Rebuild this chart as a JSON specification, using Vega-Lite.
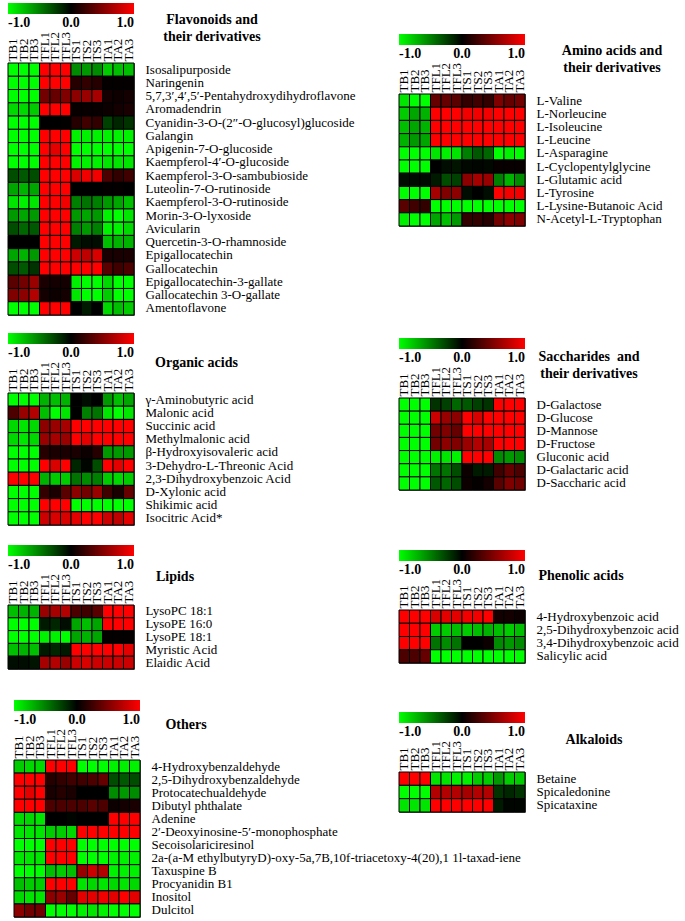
{
"$schema": "https://vega.github.io/schema/vega-lite/v6.json",
"padding": {"left": 6, "top": 1, "right": 0, "bottom": 0},
"background": "white",
"datasets": {
"flav": [
{"c":"Isosalipurposide","s":"TB1","v":-1},{"c":"Isosalipurposide","s":"TB2","v":-1},{"c":"Isosalipurposide","s":"TB3","v":-1},{"c":"Isosalipurposide","s":"TFL1","v":1},{"c":"Isosalipurposide","s":"TFL2","v":1},{"c":"Isosalipurposide","s":"TFL3","v":1},{"c":"Isosalipurposide","s":"TS1","v":-0.55},{"c":"Isosalipurposide","s":"TS2","v":-0.6},{"c":"Isosalipurposide","s":"TS3","v":-0.55},{"c":"Isosalipurposide","s":"TA1","v":-0.8},{"c":"Isosalipurposide","s":"TA2","v":-0.75},{"c":"Isosalipurposide","s":"TA3","v":-0.75},
{"c":"Naringenin","s":"TB1","v":-1},{"c":"Naringenin","s":"TB2","v":-1},{"c":"Naringenin","s":"TB3","v":-1},{"c":"Naringenin","s":"TFL1","v":1},{"c":"Naringenin","s":"TFL2","v":1},{"c":"Naringenin","s":"TFL3","v":1},{"c":"Naringenin","s":"TS1","v":0.15},{"c":"Naringenin","s":"TS2","v":0.2},{"c":"Naringenin","s":"TS3","v":0.15},{"c":"Naringenin","s":"TA1","v":0.02},{"c":"Naringenin","s":"TA2","v":0.02},{"c":"Naringenin","s":"TA3","v":0.02},
{"c":"5,7,3′,4′,5′-Pentahydroxydihydroflavone","s":"TB1","v":-1},{"c":"5,7,3′,4′,5′-Pentahydroxydihydroflavone","s":"TB2","v":-1},{"c":"5,7,3′,4′,5′-Pentahydroxydihydroflavone","s":"TB3","v":-1},{"c":"5,7,3′,4′,5′-Pentahydroxydihydroflavone","s":"TFL1","v":0.45},{"c":"5,7,3′,4′,5′-Pentahydroxydihydroflavone","s":"TFL2","v":0.4},{"c":"5,7,3′,4′,5′-Pentahydroxydihydroflavone","s":"TFL3","v":0.5},{"c":"5,7,3′,4′,5′-Pentahydroxydihydroflavone","s":"TS1","v":0.55},{"c":"5,7,3′,4′,5′-Pentahydroxydihydroflavone","s":"TS2","v":0.6},{"c":"5,7,3′,4′,5′-Pentahydroxydihydroflavone","s":"TS3","v":0.65},{"c":"5,7,3′,4′,5′-Pentahydroxydihydroflavone","s":"TA1","v":0.08},{"c":"5,7,3′,4′,5′-Pentahydroxydihydroflavone","s":"TA2","v":0.06},{"c":"5,7,3′,4′,5′-Pentahydroxydihydroflavone","s":"TA3","v":0.08},
{"c":"Aromadendrin","s":"TB1","v":-0.85},{"c":"Aromadendrin","s":"TB2","v":-0.85},{"c":"Aromadendrin","s":"TB3","v":-0.8},{"c":"Aromadendrin","s":"TFL1","v":1},{"c":"Aromadendrin","s":"TFL2","v":1},{"c":"Aromadendrin","s":"TFL3","v":1},{"c":"Aromadendrin","s":"TS1","v":0.03},{"c":"Aromadendrin","s":"TS2","v":0.03},{"c":"Aromadendrin","s":"TS3","v":0.03},{"c":"Aromadendrin","s":"TA1","v":0.05},{"c":"Aromadendrin","s":"TA2","v":0.08},{"c":"Aromadendrin","s":"TA3","v":0.1},
{"c":"Cyanidin-3-O-(2″-O-glucosyl)glucoside","s":"TB1","v":-1},{"c":"Cyanidin-3-O-(2″-O-glucosyl)glucoside","s":"TB2","v":-1},{"c":"Cyanidin-3-O-(2″-O-glucosyl)glucoside","s":"TB3","v":-1},{"c":"Cyanidin-3-O-(2″-O-glucosyl)glucoside","s":"TFL1","v":0},{"c":"Cyanidin-3-O-(2″-O-glucosyl)glucoside","s":"TFL2","v":0},{"c":"Cyanidin-3-O-(2″-O-glucosyl)glucoside","s":"TFL3","v":0.01},{"c":"Cyanidin-3-O-(2″-O-glucosyl)glucoside","s":"TS1","v":0.15},{"c":"Cyanidin-3-O-(2″-O-glucosyl)glucoside","s":"TS2","v":0.25},{"c":"Cyanidin-3-O-(2″-O-glucosyl)glucoside","s":"TS3","v":0.2},{"c":"Cyanidin-3-O-(2″-O-glucosyl)glucoside","s":"TA1","v":-0.25},{"c":"Cyanidin-3-O-(2″-O-glucosyl)glucoside","s":"TA2","v":-0.15},{"c":"Cyanidin-3-O-(2″-O-glucosyl)glucoside","s":"TA3","v":-0.2},
{"c":"Galangin","s":"TB1","v":-1},{"c":"Galangin","s":"TB2","v":-1},{"c":"Galangin","s":"TB3","v":-1},{"c":"Galangin","s":"TFL1","v":1},{"c":"Galangin","s":"TFL2","v":1},{"c":"Galangin","s":"TFL3","v":1},{"c":"Galangin","s":"TS1","v":-0.95},{"c":"Galangin","s":"TS2","v":-0.95},{"c":"Galangin","s":"TS3","v":-0.95},{"c":"Galangin","s":"TA1","v":-0.95},{"c":"Galangin","s":"TA2","v":-0.95},{"c":"Galangin","s":"TA3","v":-0.95},
{"c":"Apigenin-7-O-glucoside","s":"TB1","v":-1},{"c":"Apigenin-7-O-glucoside","s":"TB2","v":-1},{"c":"Apigenin-7-O-glucoside","s":"TB3","v":-1},{"c":"Apigenin-7-O-glucoside","s":"TFL1","v":1},{"c":"Apigenin-7-O-glucoside","s":"TFL2","v":0.9},{"c":"Apigenin-7-O-glucoside","s":"TFL3","v":1},{"c":"Apigenin-7-O-glucoside","s":"TS1","v":-1},{"c":"Apigenin-7-O-glucoside","s":"TS2","v":-1},{"c":"Apigenin-7-O-glucoside","s":"TS3","v":-1},{"c":"Apigenin-7-O-glucoside","s":"TA1","v":-1},{"c":"Apigenin-7-O-glucoside","s":"TA2","v":-1},{"c":"Apigenin-7-O-glucoside","s":"TA3","v":-1},
{"c":"Kaempferol-4′-O-glucoside","s":"TB1","v":-1},{"c":"Kaempferol-4′-O-glucoside","s":"TB2","v":-1},{"c":"Kaempferol-4′-O-glucoside","s":"TB3","v":-1},{"c":"Kaempferol-4′-O-glucoside","s":"TFL1","v":1},{"c":"Kaempferol-4′-O-glucoside","s":"TFL2","v":1},{"c":"Kaempferol-4′-O-glucoside","s":"TFL3","v":1},{"c":"Kaempferol-4′-O-glucoside","s":"TS1","v":-0.95},{"c":"Kaempferol-4′-O-glucoside","s":"TS2","v":-0.95},{"c":"Kaempferol-4′-O-glucoside","s":"TS3","v":-0.95},{"c":"Kaempferol-4′-O-glucoside","s":"TA1","v":-0.9},{"c":"Kaempferol-4′-O-glucoside","s":"TA2","v":-0.9},{"c":"Kaempferol-4′-O-glucoside","s":"TA3","v":-0.9},
{"c":"Kaempferol-3-O-sambubioside","s":"TB1","v":-0.3},{"c":"Kaempferol-3-O-sambubioside","s":"TB2","v":-0.35},{"c":"Kaempferol-3-O-sambubioside","s":"TB3","v":-0.3},{"c":"Kaempferol-3-O-sambubioside","s":"TFL1","v":1},{"c":"Kaempferol-3-O-sambubioside","s":"TFL2","v":1},{"c":"Kaempferol-3-O-sambubioside","s":"TFL3","v":1},{"c":"Kaempferol-3-O-sambubioside","s":"TS1","v":0.85},{"c":"Kaempferol-3-O-sambubioside","s":"TS2","v":0.95},{"c":"Kaempferol-3-O-sambubioside","s":"TS3","v":0.95},{"c":"Kaempferol-3-O-sambubioside","s":"TA1","v":0.3},{"c":"Kaempferol-3-O-sambubioside","s":"TA2","v":0.2},{"c":"Kaempferol-3-O-sambubioside","s":"TA3","v":0.25},
{"c":"Luteolin-7-O-rutinoside","s":"TB1","v":-0.65},{"c":"Luteolin-7-O-rutinoside","s":"TB2","v":-0.7},{"c":"Luteolin-7-O-rutinoside","s":"TB3","v":-0.65},{"c":"Luteolin-7-O-rutinoside","s":"TFL1","v":1},{"c":"Luteolin-7-O-rutinoside","s":"TFL2","v":1},{"c":"Luteolin-7-O-rutinoside","s":"TFL3","v":1},{"c":"Luteolin-7-O-rutinoside","s":"TS1","v":0},{"c":"Luteolin-7-O-rutinoside","s":"TS2","v":0},{"c":"Luteolin-7-O-rutinoside","s":"TS3","v":0},{"c":"Luteolin-7-O-rutinoside","s":"TA1","v":0.02},{"c":"Luteolin-7-O-rutinoside","s":"TA2","v":0.02},{"c":"Luteolin-7-O-rutinoside","s":"TA3","v":0},
{"c":"Kaempferol-3-O-rutinoside","s":"TB1","v":-0.9},{"c":"Kaempferol-3-O-rutinoside","s":"TB2","v":-0.95},{"c":"Kaempferol-3-O-rutinoside","s":"TB3","v":-0.9},{"c":"Kaempferol-3-O-rutinoside","s":"TFL1","v":1},{"c":"Kaempferol-3-O-rutinoside","s":"TFL2","v":1},{"c":"Kaempferol-3-O-rutinoside","s":"TFL3","v":0.95},{"c":"Kaempferol-3-O-rutinoside","s":"TS1","v":-0.5},{"c":"Kaempferol-3-O-rutinoside","s":"TS2","v":-0.45},{"c":"Kaempferol-3-O-rutinoside","s":"TS3","v":-0.5},{"c":"Kaempferol-3-O-rutinoside","s":"TA1","v":-0.6},{"c":"Kaempferol-3-O-rutinoside","s":"TA2","v":-0.65},{"c":"Kaempferol-3-O-rutinoside","s":"TA3","v":-0.75},
{"c":"Morin-3-O-lyxoside","s":"TB1","v":-0.6},{"c":"Morin-3-O-lyxoside","s":"TB2","v":-0.65},{"c":"Morin-3-O-lyxoside","s":"TB3","v":-0.6},{"c":"Morin-3-O-lyxoside","s":"TFL1","v":1},{"c":"Morin-3-O-lyxoside","s":"TFL2","v":1},{"c":"Morin-3-O-lyxoside","s":"TFL3","v":1},{"c":"Morin-3-O-lyxoside","s":"TS1","v":-0.6},{"c":"Morin-3-O-lyxoside","s":"TS2","v":-0.65},{"c":"Morin-3-O-lyxoside","s":"TS3","v":-0.6},{"c":"Morin-3-O-lyxoside","s":"TA1","v":-0.95},{"c":"Morin-3-O-lyxoside","s":"TA2","v":-1},{"c":"Morin-3-O-lyxoside","s":"TA3","v":-0.9},
{"c":"Avicularin","s":"TB1","v":-0.3},{"c":"Avicularin","s":"TB2","v":-0.4},{"c":"Avicularin","s":"TB3","v":-0.35},{"c":"Avicularin","s":"TFL1","v":1},{"c":"Avicularin","s":"TFL2","v":1},{"c":"Avicularin","s":"TFL3","v":1},{"c":"Avicularin","s":"TS1","v":-0.5},{"c":"Avicularin","s":"TS2","v":-0.6},{"c":"Avicularin","s":"TS3","v":-0.5},{"c":"Avicularin","s":"TA1","v":-0.95},{"c":"Avicularin","s":"TA2","v":-0.95},{"c":"Avicularin","s":"TA3","v":-0.85},
{"c":"Quercetin-3-O-rhamnoside","s":"TB1","v":0},{"c":"Quercetin-3-O-rhamnoside","s":"TB2","v":0},{"c":"Quercetin-3-O-rhamnoside","s":"TB3","v":0},{"c":"Quercetin-3-O-rhamnoside","s":"TFL1","v":1},{"c":"Quercetin-3-O-rhamnoside","s":"TFL2","v":1},{"c":"Quercetin-3-O-rhamnoside","s":"TFL3","v":1},{"c":"Quercetin-3-O-rhamnoside","s":"TS1","v":-0.1},{"c":"Quercetin-3-O-rhamnoside","s":"TS2","v":-0.05},{"c":"Quercetin-3-O-rhamnoside","s":"TS3","v":-0.05},{"c":"Quercetin-3-O-rhamnoside","s":"TA1","v":-0.75},{"c":"Quercetin-3-O-rhamnoside","s":"TA2","v":-0.7},{"c":"Quercetin-3-O-rhamnoside","s":"TA3","v":-0.7},
{"c":"Epigallocatechin","s":"TB1","v":-0.65},{"c":"Epigallocatechin","s":"TB2","v":-0.7},{"c":"Epigallocatechin","s":"TB3","v":-0.6},{"c":"Epigallocatechin","s":"TFL1","v":1},{"c":"Epigallocatechin","s":"TFL2","v":1},{"c":"Epigallocatechin","s":"TFL3","v":1},{"c":"Epigallocatechin","s":"TS1","v":0.8},{"c":"Epigallocatechin","s":"TS2","v":0.75},{"c":"Epigallocatechin","s":"TS3","v":0.85},{"c":"Epigallocatechin","s":"TA1","v":0.1},{"c":"Epigallocatechin","s":"TA2","v":0.1},{"c":"Epigallocatechin","s":"TA3","v":0.1},
{"c":"Gallocatechin","s":"TB1","v":-0.3},{"c":"Gallocatechin","s":"TB2","v":-0.35},{"c":"Gallocatechin","s":"TB3","v":-0.2},{"c":"Gallocatechin","s":"TFL1","v":1},{"c":"Gallocatechin","s":"TFL2","v":1},{"c":"Gallocatechin","s":"TFL3","v":1},{"c":"Gallocatechin","s":"TS1","v":1},{"c":"Gallocatechin","s":"TS2","v":1},{"c":"Gallocatechin","s":"TS3","v":1},{"c":"Gallocatechin","s":"TA1","v":0.35},{"c":"Gallocatechin","s":"TA2","v":0.25},{"c":"Gallocatechin","s":"TA3","v":0.3},
{"c":"Epigallocatechin-3-gallate","s":"TB1","v":0.35},{"c":"Epigallocatechin-3-gallate","s":"TB2","v":0.45},{"c":"Epigallocatechin-3-gallate","s":"TB3","v":0.6},{"c":"Epigallocatechin-3-gallate","s":"TFL1","v":0.1},{"c":"Epigallocatechin-3-gallate","s":"TFL2","v":0.08},{"c":"Epigallocatechin-3-gallate","s":"TFL3","v":0.08},{"c":"Epigallocatechin-3-gallate","s":"TS1","v":-0.95},{"c":"Epigallocatechin-3-gallate","s":"TS2","v":-1},{"c":"Epigallocatechin-3-gallate","s":"TS3","v":-1},{"c":"Epigallocatechin-3-gallate","s":"TA1","v":-0.85},{"c":"Epigallocatechin-3-gallate","s":"TA2","v":-1},{"c":"Epigallocatechin-3-gallate","s":"TA3","v":-1},
{"c":"Gallocatechin 3-O-gallate","s":"TB1","v":0.5},{"c":"Gallocatechin 3-O-gallate","s":"TB2","v":0.55},{"c":"Gallocatechin 3-O-gallate","s":"TB3","v":0.7},{"c":"Gallocatechin 3-O-gallate","s":"TFL1","v":0.08},{"c":"Gallocatechin 3-O-gallate","s":"TFL2","v":0.05},{"c":"Gallocatechin 3-O-gallate","s":"TFL3","v":0.08},{"c":"Gallocatechin 3-O-gallate","s":"TS1","v":-0.9},{"c":"Gallocatechin 3-O-gallate","s":"TS2","v":-1},{"c":"Gallocatechin 3-O-gallate","s":"TS3","v":-1},{"c":"Gallocatechin 3-O-gallate","s":"TA1","v":-0.8},{"c":"Gallocatechin 3-O-gallate","s":"TA2","v":-1},{"c":"Gallocatechin 3-O-gallate","s":"TA3","v":-1},
{"c":"Amentoflavone","s":"TB1","v":-1},{"c":"Amentoflavone","s":"TB2","v":-1},{"c":"Amentoflavone","s":"TB3","v":-1},{"c":"Amentoflavone","s":"TFL1","v":1},{"c":"Amentoflavone","s":"TFL2","v":1},{"c":"Amentoflavone","s":"TFL3","v":1},{"c":"Amentoflavone","s":"TS1","v":0},{"c":"Amentoflavone","s":"TS2","v":-0.1},{"c":"Amentoflavone","s":"TS3","v":0},{"c":"Amentoflavone","s":"TA1","v":-0.85},{"c":"Amentoflavone","s":"TA2","v":-0.75},{"c":"Amentoflavone","s":"TA3","v":-0.8}
],
"amino": [
{"c":"L-Valine","s":"TB1","v":-0.9},{"c":"L-Valine","s":"TB2","v":-1},{"c":"L-Valine","s":"TB3","v":-1},{"c":"L-Valine","s":"TFL1","v":0.4},{"c":"L-Valine","s":"TFL2","v":0.4},{"c":"L-Valine","s":"TFL3","v":0.35},{"c":"L-Valine","s":"TS1","v":0.2},{"c":"L-Valine","s":"TS2","v":0.25},{"c":"L-Valine","s":"TS3","v":0.2},{"c":"L-Valine","s":"TA1","v":0.5},{"c":"L-Valine","s":"TA2","v":0.4},{"c":"L-Valine","s":"TA3","v":0.45},
{"c":"L-Norleucine","s":"TB1","v":-0.8},{"c":"L-Norleucine","s":"TB2","v":-0.65},{"c":"L-Norleucine","s":"TB3","v":-0.7},{"c":"L-Norleucine","s":"TFL1","v":1},{"c":"L-Norleucine","s":"TFL2","v":1},{"c":"L-Norleucine","s":"TFL3","v":1},{"c":"L-Norleucine","s":"TS1","v":0.95},{"c":"L-Norleucine","s":"TS2","v":0.95},{"c":"L-Norleucine","s":"TS3","v":0.95},{"c":"L-Norleucine","s":"TA1","v":1},{"c":"L-Norleucine","s":"TA2","v":1},{"c":"L-Norleucine","s":"TA3","v":1},
{"c":"L-Isoleucine","s":"TB1","v":-0.75},{"c":"L-Isoleucine","s":"TB2","v":-0.65},{"c":"L-Isoleucine","s":"TB3","v":-0.7},{"c":"L-Isoleucine","s":"TFL1","v":1},{"c":"L-Isoleucine","s":"TFL2","v":1},{"c":"L-Isoleucine","s":"TFL3","v":1},{"c":"L-Isoleucine","s":"TS1","v":1},{"c":"L-Isoleucine","s":"TS2","v":1},{"c":"L-Isoleucine","s":"TS3","v":1},{"c":"L-Isoleucine","s":"TA1","v":1},{"c":"L-Isoleucine","s":"TA2","v":1},{"c":"L-Isoleucine","s":"TA3","v":1},
{"c":"L-Leucine","s":"TB1","v":-0.7},{"c":"L-Leucine","s":"TB2","v":-0.6},{"c":"L-Leucine","s":"TB3","v":-0.65},{"c":"L-Leucine","s":"TFL1","v":1},{"c":"L-Leucine","s":"TFL2","v":1},{"c":"L-Leucine","s":"TFL3","v":1},{"c":"L-Leucine","s":"TS1","v":1},{"c":"L-Leucine","s":"TS2","v":1},{"c":"L-Leucine","s":"TS3","v":1},{"c":"L-Leucine","s":"TA1","v":1},{"c":"L-Leucine","s":"TA2","v":1},{"c":"L-Leucine","s":"TA3","v":1},
{"c":"L-Asparagine","s":"TB1","v":-1},{"c":"L-Asparagine","s":"TB2","v":-1},{"c":"L-Asparagine","s":"TB3","v":-1},{"c":"L-Asparagine","s":"TFL1","v":-0.9},{"c":"L-Asparagine","s":"TFL2","v":-0.95},{"c":"L-Asparagine","s":"TFL3","v":-0.9},{"c":"L-Asparagine","s":"TS1","v":-0.5},{"c":"L-Asparagine","s":"TS2","v":-0.35},{"c":"L-Asparagine","s":"TS3","v":-0.4},{"c":"L-Asparagine","s":"TA1","v":-1},{"c":"L-Asparagine","s":"TA2","v":-0.95},{"c":"L-Asparagine","s":"TA3","v":-1},
{"c":"L-Cyclopentylglycine","s":"TB1","v":-1},{"c":"L-Cyclopentylglycine","s":"TB2","v":-1},{"c":"L-Cyclopentylglycine","s":"TB3","v":-1},{"c":"L-Cyclopentylglycine","s":"TFL1","v":0},{"c":"L-Cyclopentylglycine","s":"TFL2","v":-0.05},{"c":"L-Cyclopentylglycine","s":"TFL3","v":-0.08},{"c":"L-Cyclopentylglycine","s":"TS1","v":-0.03},{"c":"L-Cyclopentylglycine","s":"TS2","v":-0.02},{"c":"L-Cyclopentylglycine","s":"TS3","v":-0.03},{"c":"L-Cyclopentylglycine","s":"TA1","v":0.03},{"c":"L-Cyclopentylglycine","s":"TA2","v":0.03},{"c":"L-Cyclopentylglycine","s":"TA3","v":0.03},
{"c":"L-Glutamic acid","s":"TB1","v":-0.05},{"c":"L-Glutamic acid","s":"TB2","v":-0.04},{"c":"L-Glutamic acid","s":"TB3","v":-0.04},{"c":"L-Glutamic acid","s":"TFL1","v":-0.1},{"c":"L-Glutamic acid","s":"TFL2","v":-0.3},{"c":"L-Glutamic acid","s":"TFL3","v":-0.25},{"c":"L-Glutamic acid","s":"TS1","v":0.55},{"c":"L-Glutamic acid","s":"TS2","v":0.65},{"c":"L-Glutamic acid","s":"TS3","v":0.6},{"c":"L-Glutamic acid","s":"TA1","v":-0.5},{"c":"L-Glutamic acid","s":"TA2","v":-0.7},{"c":"L-Glutamic acid","s":"TA3","v":-0.55},
{"c":"L-Tyrosine","s":"TB1","v":-1},{"c":"L-Tyrosine","s":"TB2","v":-1},{"c":"L-Tyrosine","s":"TB3","v":-1},{"c":"L-Tyrosine","s":"TFL1","v":0.65},{"c":"L-Tyrosine","s":"TFL2","v":0.5},{"c":"L-Tyrosine","s":"TFL3","v":0.55},{"c":"L-Tyrosine","s":"TS1","v":-0.05},{"c":"L-Tyrosine","s":"TS2","v":0},{"c":"L-Tyrosine","s":"TS3","v":-0.05},{"c":"L-Tyrosine","s":"TA1","v":1},{"c":"L-Tyrosine","s":"TA2","v":0.95},{"c":"L-Tyrosine","s":"TA3","v":0.95},
{"c":"L-Lysine-Butanoic Acid","s":"TB1","v":0.35},{"c":"L-Lysine-Butanoic Acid","s":"TB2","v":0.25},{"c":"L-Lysine-Butanoic Acid","s":"TB3","v":0.2},{"c":"L-Lysine-Butanoic Acid","s":"TFL1","v":-1},{"c":"L-Lysine-Butanoic Acid","s":"TFL2","v":-1},{"c":"L-Lysine-Butanoic Acid","s":"TFL3","v":-1},{"c":"L-Lysine-Butanoic Acid","s":"TS1","v":-1},{"c":"L-Lysine-Butanoic Acid","s":"TS2","v":-1},{"c":"L-Lysine-Butanoic Acid","s":"TS3","v":-1},{"c":"L-Lysine-Butanoic Acid","s":"TA1","v":-1},{"c":"L-Lysine-Butanoic Acid","s":"TA2","v":-1},{"c":"L-Lysine-Butanoic Acid","s":"TA3","v":-1},
{"c":"N-Acetyl-L-Tryptophan","s":"TB1","v":-0.95},{"c":"N-Acetyl-L-Tryptophan","s":"TB2","v":-1},{"c":"N-Acetyl-L-Tryptophan","s":"TB3","v":-1},{"c":"N-Acetyl-L-Tryptophan","s":"TFL1","v":-0.65},{"c":"N-Acetyl-L-Tryptophan","s":"TFL2","v":-0.75},{"c":"N-Acetyl-L-Tryptophan","s":"TFL3","v":-0.6},{"c":"N-Acetyl-L-Tryptophan","s":"TS1","v":0.2},{"c":"N-Acetyl-L-Tryptophan","s":"TS2","v":0.2},{"c":"N-Acetyl-L-Tryptophan","s":"TS3","v":0.15},{"c":"N-Acetyl-L-Tryptophan","s":"TA1","v":0.45},{"c":"N-Acetyl-L-Tryptophan","s":"TA2","v":0.55},{"c":"N-Acetyl-L-Tryptophan","s":"TA3","v":0.5}
],
"organic": [
{"c":"γ-Aminobutyric acid","s":"TB1","v":-1},{"c":"γ-Aminobutyric acid","s":"TB2","v":-1},{"c":"γ-Aminobutyric acid","s":"TB3","v":-1},{"c":"γ-Aminobutyric acid","s":"TFL1","v":-0.7},{"c":"γ-Aminobutyric acid","s":"TFL2","v":-0.75},{"c":"γ-Aminobutyric acid","s":"TFL3","v":-0.7},{"c":"γ-Aminobutyric acid","s":"TS1","v":0},{"c":"γ-Aminobutyric acid","s":"TS2","v":-0.05},{"c":"γ-Aminobutyric acid","s":"TS3","v":0},{"c":"γ-Aminobutyric acid","s":"TA1","v":-0.6},{"c":"γ-Aminobutyric acid","s":"TA2","v":-0.75},{"c":"γ-Aminobutyric acid","s":"TA3","v":-0.65},
{"c":"Malonic acid","s":"TB1","v":0.3},{"c":"Malonic acid","s":"TB2","v":0.6},{"c":"Malonic acid","s":"TB3","v":0.7},{"c":"Malonic acid","s":"TFL1","v":-0.75},{"c":"Malonic acid","s":"TFL2","v":-1},{"c":"Malonic acid","s":"TFL3","v":-0.9},{"c":"Malonic acid","s":"TS1","v":0},{"c":"Malonic acid","s":"TS2","v":-0.5},{"c":"Malonic acid","s":"TS3","v":-0.45},{"c":"Malonic acid","s":"TA1","v":-0.9},{"c":"Malonic acid","s":"TA2","v":-1},{"c":"Malonic acid","s":"TA3","v":-0.9},
{"c":"Succinic acid","s":"TB1","v":-0.85},{"c":"Succinic acid","s":"TB2","v":-0.9},{"c":"Succinic acid","s":"TB3","v":-0.85},{"c":"Succinic acid","s":"TFL1","v":0.55},{"c":"Succinic acid","s":"TFL2","v":0.6},{"c":"Succinic acid","s":"TFL3","v":0.65},{"c":"Succinic acid","s":"TS1","v":1},{"c":"Succinic acid","s":"TS2","v":1},{"c":"Succinic acid","s":"TS3","v":1},{"c":"Succinic acid","s":"TA1","v":1},{"c":"Succinic acid","s":"TA2","v":1},{"c":"Succinic acid","s":"TA3","v":1},
{"c":"Methylmalonic acid","s":"TB1","v":-0.85},{"c":"Methylmalonic acid","s":"TB2","v":-0.9},{"c":"Methylmalonic acid","s":"TB3","v":-0.85},{"c":"Methylmalonic acid","s":"TFL1","v":0.6},{"c":"Methylmalonic acid","s":"TFL2","v":0.65},{"c":"Methylmalonic acid","s":"TFL3","v":0.6},{"c":"Methylmalonic acid","s":"TS1","v":1},{"c":"Methylmalonic acid","s":"TS2","v":0.9},{"c":"Methylmalonic acid","s":"TS3","v":1},{"c":"Methylmalonic acid","s":"TA1","v":1},{"c":"Methylmalonic acid","s":"TA2","v":1},{"c":"Methylmalonic acid","s":"TA3","v":1},
{"c":"β-Hydroxyisovaleric acid","s":"TB1","v":-1},{"c":"β-Hydroxyisovaleric acid","s":"TB2","v":-1},{"c":"β-Hydroxyisovaleric acid","s":"TB3","v":-1},{"c":"β-Hydroxyisovaleric acid","s":"TFL1","v":0.15},{"c":"β-Hydroxyisovaleric acid","s":"TFL2","v":0.1},{"c":"β-Hydroxyisovaleric acid","s":"TFL3","v":0.1},{"c":"β-Hydroxyisovaleric acid","s":"TS1","v":0.1},{"c":"β-Hydroxyisovaleric acid","s":"TS2","v":0.05},{"c":"β-Hydroxyisovaleric acid","s":"TS3","v":0.15},{"c":"β-Hydroxyisovaleric acid","s":"TA1","v":-0.6},{"c":"β-Hydroxyisovaleric acid","s":"TA2","v":-0.6},{"c":"β-Hydroxyisovaleric acid","s":"TA3","v":-0.6},
{"c":"3-Dehydro-L-Threonic Acid","s":"TB1","v":-1},{"c":"3-Dehydro-L-Threonic Acid","s":"TB2","v":-1},{"c":"3-Dehydro-L-Threonic Acid","s":"TB3","v":-1},{"c":"3-Dehydro-L-Threonic Acid","s":"TFL1","v":1},{"c":"3-Dehydro-L-Threonic Acid","s":"TFL2","v":0.85},{"c":"3-Dehydro-L-Threonic Acid","s":"TFL3","v":1},{"c":"3-Dehydro-L-Threonic Acid","s":"TS1","v":-0.15},{"c":"3-Dehydro-L-Threonic Acid","s":"TS2","v":-0.02},{"c":"3-Dehydro-L-Threonic Acid","s":"TS3","v":-0.3},{"c":"3-Dehydro-L-Threonic Acid","s":"TA1","v":1},{"c":"3-Dehydro-L-Threonic Acid","s":"TA2","v":0.9},{"c":"3-Dehydro-L-Threonic Acid","s":"TA3","v":1},
{"c":"2,3-Dihydroxybenzoic Acid","s":"TB1","v":1},{"c":"2,3-Dihydroxybenzoic Acid","s":"TB2","v":1},{"c":"2,3-Dihydroxybenzoic Acid","s":"TB3","v":1},{"c":"2,3-Dihydroxybenzoic Acid","s":"TFL1","v":-0.7},{"c":"2,3-Dihydroxybenzoic Acid","s":"TFL2","v":-0.8},{"c":"2,3-Dihydroxybenzoic Acid","s":"TFL3","v":-0.8},{"c":"2,3-Dihydroxybenzoic Acid","s":"TS1","v":-0.45},{"c":"2,3-Dihydroxybenzoic Acid","s":"TS2","v":-0.55},{"c":"2,3-Dihydroxybenzoic Acid","s":"TS3","v":-0.5},{"c":"2,3-Dihydroxybenzoic Acid","s":"TA1","v":-0.8},{"c":"2,3-Dihydroxybenzoic Acid","s":"TA2","v":-0.85},{"c":"2,3-Dihydroxybenzoic Acid","s":"TA3","v":-0.8},
{"c":"D-Xylonic acid","s":"TB1","v":-1},{"c":"D-Xylonic acid","s":"TB2","v":-1},{"c":"D-Xylonic acid","s":"TB3","v":-1},{"c":"D-Xylonic acid","s":"TFL1","v":0.2},{"c":"D-Xylonic acid","s":"TFL2","v":0.1},{"c":"D-Xylonic acid","s":"TFL3","v":0.35},{"c":"D-Xylonic acid","s":"TS1","v":0.55},{"c":"D-Xylonic acid","s":"TS2","v":0.45},{"c":"D-Xylonic acid","s":"TS3","v":0.6},{"c":"D-Xylonic acid","s":"TA1","v":0.25},{"c":"D-Xylonic acid","s":"TA2","v":0.1},{"c":"D-Xylonic acid","s":"TA3","v":0.4},
{"c":"Shikimic acid","s":"TB1","v":-1},{"c":"Shikimic acid","s":"TB2","v":-1},{"c":"Shikimic acid","s":"TB3","v":-1},{"c":"Shikimic acid","s":"TFL1","v":1},{"c":"Shikimic acid","s":"TFL2","v":1},{"c":"Shikimic acid","s":"TFL3","v":1},{"c":"Shikimic acid","s":"TS1","v":-1},{"c":"Shikimic acid","s":"TS2","v":-1},{"c":"Shikimic acid","s":"TS3","v":-1},{"c":"Shikimic acid","s":"TA1","v":-1},{"c":"Shikimic acid","s":"TA2","v":-1},{"c":"Shikimic acid","s":"TA3","v":-1},
{"c":"Isocitric Acid*","s":"TB1","v":-1},{"c":"Isocitric Acid*","s":"TB2","v":-1},{"c":"Isocitric Acid*","s":"TB3","v":-1},{"c":"Isocitric Acid*","s":"TFL1","v":0.8},{"c":"Isocitric Acid*","s":"TFL2","v":0.85},{"c":"Isocitric Acid*","s":"TFL3","v":0.85},{"c":"Isocitric Acid*","s":"TS1","v":0.9},{"c":"Isocitric Acid*","s":"TS2","v":1},{"c":"Isocitric Acid*","s":"TS3","v":1},{"c":"Isocitric Acid*","s":"TA1","v":0.8},{"c":"Isocitric Acid*","s":"TA2","v":0.75},{"c":"Isocitric Acid*","s":"TA3","v":0.9}
],
"sacch": [
{"c":"D-Galactose","s":"TB1","v":-1},{"c":"D-Galactose","s":"TB2","v":-1},{"c":"D-Galactose","s":"TB3","v":-1},{"c":"D-Galactose","s":"TFL1","v":-0.2},{"c":"D-Galactose","s":"TFL2","v":-0.25},{"c":"D-Galactose","s":"TFL3","v":-0.4},{"c":"D-Galactose","s":"TS1","v":-0.35},{"c":"D-Galactose","s":"TS2","v":-0.25},{"c":"D-Galactose","s":"TS3","v":-0.2},{"c":"D-Galactose","s":"TA1","v":1},{"c":"D-Galactose","s":"TA2","v":1},{"c":"D-Galactose","s":"TA3","v":1},
{"c":"D-Glucose","s":"TB1","v":-1},{"c":"D-Glucose","s":"TB2","v":-1},{"c":"D-Glucose","s":"TB3","v":-1},{"c":"D-Glucose","s":"TFL1","v":0.8},{"c":"D-Glucose","s":"TFL2","v":0.6},{"c":"D-Glucose","s":"TFL3","v":0.55},{"c":"D-Glucose","s":"TS1","v":1},{"c":"D-Glucose","s":"TS2","v":0.85},{"c":"D-Glucose","s":"TS3","v":1},{"c":"D-Glucose","s":"TA1","v":1},{"c":"D-Glucose","s":"TA2","v":1},{"c":"D-Glucose","s":"TA3","v":1},
{"c":"D-Mannose","s":"TB1","v":-1},{"c":"D-Mannose","s":"TB2","v":-1},{"c":"D-Mannose","s":"TB3","v":-1},{"c":"D-Mannose","s":"TFL1","v":0.45},{"c":"D-Mannose","s":"TFL2","v":0.5},{"c":"D-Mannose","s":"TFL3","v":0.4},{"c":"D-Mannose","s":"TS1","v":1},{"c":"D-Mannose","s":"TS2","v":1},{"c":"D-Mannose","s":"TS3","v":1},{"c":"D-Mannose","s":"TA1","v":1},{"c":"D-Mannose","s":"TA2","v":1},{"c":"D-Mannose","s":"TA3","v":1},
{"c":"D-Fructose","s":"TB1","v":-1},{"c":"D-Fructose","s":"TB2","v":-1},{"c":"D-Fructose","s":"TB3","v":-1},{"c":"D-Fructose","s":"TFL1","v":0.45},{"c":"D-Fructose","s":"TFL2","v":0.55},{"c":"D-Fructose","s":"TFL3","v":0.5},{"c":"D-Fructose","s":"TS1","v":0.6},{"c":"D-Fructose","s":"TS2","v":0.7},{"c":"D-Fructose","s":"TS3","v":0.65},{"c":"D-Fructose","s":"TA1","v":1},{"c":"D-Fructose","s":"TA2","v":1},{"c":"D-Fructose","s":"TA3","v":1},
{"c":"Gluconic acid","s":"TB1","v":-1},{"c":"Gluconic acid","s":"TB2","v":-1},{"c":"Gluconic acid","s":"TB3","v":-1},{"c":"Gluconic acid","s":"TFL1","v":-0.95},{"c":"Gluconic acid","s":"TFL2","v":-0.9},{"c":"Gluconic acid","s":"TFL3","v":-0.95},{"c":"Gluconic acid","s":"TS1","v":1},{"c":"Gluconic acid","s":"TS2","v":1},{"c":"Gluconic acid","s":"TS3","v":1},{"c":"Gluconic acid","s":"TA1","v":-0.55},{"c":"Gluconic acid","s":"TA2","v":-0.6},{"c":"Gluconic acid","s":"TA3","v":-0.55},
{"c":"D-Galactaric acid","s":"TB1","v":-1},{"c":"D-Galactaric acid","s":"TB2","v":-1},{"c":"D-Galactaric acid","s":"TB3","v":-1},{"c":"D-Galactaric acid","s":"TFL1","v":-0.45},{"c":"D-Galactaric acid","s":"TFL2","v":-0.45},{"c":"D-Galactaric acid","s":"TFL3","v":-0.3},{"c":"D-Galactaric acid","s":"TS1","v":0.05},{"c":"D-Galactaric acid","s":"TS2","v":-0.1},{"c":"D-Galactaric acid","s":"TS3","v":-0.1},{"c":"D-Galactaric acid","s":"TA1","v":0.25},{"c":"D-Galactaric acid","s":"TA2","v":0.4},{"c":"D-Galactaric acid","s":"TA3","v":0.3},
{"c":"D-Saccharic acid","s":"TB1","v":-1},{"c":"D-Saccharic acid","s":"TB2","v":-1},{"c":"D-Saccharic acid","s":"TB3","v":-1},{"c":"D-Saccharic acid","s":"TFL1","v":-0.35},{"c":"D-Saccharic acid","s":"TFL2","v":-0.4},{"c":"D-Saccharic acid","s":"TFL3","v":-0.3},{"c":"D-Saccharic acid","s":"TS1","v":0.05},{"c":"D-Saccharic acid","s":"TS2","v":0.02},{"c":"D-Saccharic acid","s":"TS3","v":0.08},{"c":"D-Saccharic acid","s":"TA1","v":0.35},{"c":"D-Saccharic acid","s":"TA2","v":0.5},{"c":"D-Saccharic acid","s":"TA3","v":0.45}
],
"lipids": [
{"c":"LysoPC 18:1","s":"TB1","v":-0.75},{"c":"LysoPC 18:1","s":"TB2","v":-0.7},{"c":"LysoPC 18:1","s":"TB3","v":-0.7},{"c":"LysoPC 18:1","s":"TFL1","v":0.6},{"c":"LysoPC 18:1","s":"TFL2","v":0.65},{"c":"LysoPC 18:1","s":"TFL3","v":0.7},{"c":"LysoPC 18:1","s":"TS1","v":0.3},{"c":"LysoPC 18:1","s":"TS2","v":0.25},{"c":"LysoPC 18:1","s":"TS3","v":0.35},{"c":"LysoPC 18:1","s":"TA1","v":1},{"c":"LysoPC 18:1","s":"TA2","v":1},{"c":"LysoPC 18:1","s":"TA3","v":1},
{"c":"LysoPE 16:0","s":"TB1","v":-1},{"c":"LysoPE 16:0","s":"TB2","v":-1},{"c":"LysoPE 16:0","s":"TB3","v":-1},{"c":"LysoPE 16:0","s":"TFL1","v":-0.1},{"c":"LysoPE 16:0","s":"TFL2","v":-0.15},{"c":"LysoPE 16:0","s":"TFL3","v":-0.05},{"c":"LysoPE 16:0","s":"TS1","v":-0.65},{"c":"LysoPE 16:0","s":"TS2","v":-0.75},{"c":"LysoPE 16:0","s":"TS3","v":-0.65},{"c":"LysoPE 16:0","s":"TA1","v":1},{"c":"LysoPE 16:0","s":"TA2","v":1},{"c":"LysoPE 16:0","s":"TA3","v":1},
{"c":"LysoPE 18:1","s":"TB1","v":-1},{"c":"LysoPE 18:1","s":"TB2","v":-1},{"c":"LysoPE 18:1","s":"TB3","v":-1},{"c":"LysoPE 18:1","s":"TFL1","v":-0.95},{"c":"LysoPE 18:1","s":"TFL2","v":-0.95},{"c":"LysoPE 18:1","s":"TFL3","v":-1},{"c":"LysoPE 18:1","s":"TS1","v":-0.65},{"c":"LysoPE 18:1","s":"TS2","v":-0.7},{"c":"LysoPE 18:1","s":"TS3","v":-0.65},{"c":"LysoPE 18:1","s":"TA1","v":0.02},{"c":"LysoPE 18:1","s":"TA2","v":0.02},{"c":"LysoPE 18:1","s":"TA3","v":0.02},
{"c":"Myristic Acid","s":"TB1","v":-0.75},{"c":"Myristic Acid","s":"TB2","v":-0.7},{"c":"Myristic Acid","s":"TB3","v":-0.75},{"c":"Myristic Acid","s":"TFL1","v":-0.1},{"c":"Myristic Acid","s":"TFL2","v":-0.15},{"c":"Myristic Acid","s":"TFL3","v":-0.1},{"c":"Myristic Acid","s":"TS1","v":1},{"c":"Myristic Acid","s":"TS2","v":1},{"c":"Myristic Acid","s":"TS3","v":1},{"c":"Myristic Acid","s":"TA1","v":1},{"c":"Myristic Acid","s":"TA2","v":1},{"c":"Myristic Acid","s":"TA3","v":0.9},
{"c":"Elaidic Acid","s":"TB1","v":-0.05},{"c":"Elaidic Acid","s":"TB2","v":-0.05},{"c":"Elaidic Acid","s":"TB3","v":-0.08},{"c":"Elaidic Acid","s":"TFL1","v":0.65},{"c":"Elaidic Acid","s":"TFL2","v":0.7},{"c":"Elaidic Acid","s":"TFL3","v":0.6},{"c":"Elaidic Acid","s":"TS1","v":0.8},{"c":"Elaidic Acid","s":"TS2","v":0.85},{"c":"Elaidic Acid","s":"TS3","v":0.8},{"c":"Elaidic Acid","s":"TA1","v":0.8},{"c":"Elaidic Acid","s":"TA2","v":0.8},{"c":"Elaidic Acid","s":"TA3","v":0.8}
],
"phenolic": [
{"c":"4-Hydroxybenzoic acid","s":"TB1","v":1},{"c":"4-Hydroxybenzoic acid","s":"TB2","v":1},{"c":"4-Hydroxybenzoic acid","s":"TB3","v":1},{"c":"4-Hydroxybenzoic acid","s":"TFL1","v":0.85},{"c":"4-Hydroxybenzoic acid","s":"TFL2","v":0.9},{"c":"4-Hydroxybenzoic acid","s":"TFL3","v":0.9},{"c":"4-Hydroxybenzoic acid","s":"TS1","v":0.95},{"c":"4-Hydroxybenzoic acid","s":"TS2","v":0.95},{"c":"4-Hydroxybenzoic acid","s":"TS3","v":1},{"c":"4-Hydroxybenzoic acid","s":"TA1","v":0.08},{"c":"4-Hydroxybenzoic acid","s":"TA2","v":0.08},{"c":"4-Hydroxybenzoic acid","s":"TA3","v":0.05},
{"c":"2,5-Dihydroxybenzoic acid","s":"TB1","v":1},{"c":"2,5-Dihydroxybenzoic acid","s":"TB2","v":1},{"c":"2,5-Dihydroxybenzoic acid","s":"TB3","v":1},{"c":"2,5-Dihydroxybenzoic acid","s":"TFL1","v":-0.8},{"c":"2,5-Dihydroxybenzoic acid","s":"TFL2","v":-0.8},{"c":"2,5-Dihydroxybenzoic acid","s":"TFL3","v":-0.75},{"c":"2,5-Dihydroxybenzoic acid","s":"TS1","v":-0.8},{"c":"2,5-Dihydroxybenzoic acid","s":"TS2","v":-0.75},{"c":"2,5-Dihydroxybenzoic acid","s":"TS3","v":-0.7},{"c":"2,5-Dihydroxybenzoic acid","s":"TA1","v":-0.75},{"c":"2,5-Dihydroxybenzoic acid","s":"TA2","v":-0.8},{"c":"2,5-Dihydroxybenzoic acid","s":"TA3","v":-0.75},
{"c":"3,4-Dihydroxybenzoic acid","s":"TB1","v":1},{"c":"3,4-Dihydroxybenzoic acid","s":"TB2","v":1},{"c":"3,4-Dihydroxybenzoic acid","s":"TB3","v":1},{"c":"3,4-Dihydroxybenzoic acid","s":"TFL1","v":-0.45},{"c":"3,4-Dihydroxybenzoic acid","s":"TFL2","v":-0.55},{"c":"3,4-Dihydroxybenzoic acid","s":"TFL3","v":-0.45},{"c":"3,4-Dihydroxybenzoic acid","s":"TS1","v":0},{"c":"3,4-Dihydroxybenzoic acid","s":"TS2","v":0},{"c":"3,4-Dihydroxybenzoic acid","s":"TS3","v":0.05},{"c":"3,4-Dihydroxybenzoic acid","s":"TA1","v":-0.55},{"c":"3,4-Dihydroxybenzoic acid","s":"TA2","v":-0.6},{"c":"3,4-Dihydroxybenzoic acid","s":"TA3","v":-0.55},
{"c":"Salicylic acid","s":"TB1","v":0.3},{"c":"Salicylic acid","s":"TB2","v":0.3},{"c":"Salicylic acid","s":"TB3","v":0.4},{"c":"Salicylic acid","s":"TFL1","v":-1},{"c":"Salicylic acid","s":"TFL2","v":-1},{"c":"Salicylic acid","s":"TFL3","v":-1},{"c":"Salicylic acid","s":"TS1","v":-1},{"c":"Salicylic acid","s":"TS2","v":-1},{"c":"Salicylic acid","s":"TS3","v":-1},{"c":"Salicylic acid","s":"TA1","v":-1},{"c":"Salicylic acid","s":"TA2","v":-1},{"c":"Salicylic acid","s":"TA3","v":-1}
],
"others": [
{"c":"4-Hydroxybenzaldehyde","s":"TB1","v":-0.8},{"c":"4-Hydroxybenzaldehyde","s":"TB2","v":-0.85},{"c":"4-Hydroxybenzaldehyde","s":"TB3","v":-0.85},{"c":"4-Hydroxybenzaldehyde","s":"TFL1","v":1},{"c":"4-Hydroxybenzaldehyde","s":"TFL2","v":1},{"c":"4-Hydroxybenzaldehyde","s":"TFL3","v":1},{"c":"4-Hydroxybenzaldehyde","s":"TS1","v":-1},{"c":"4-Hydroxybenzaldehyde","s":"TS2","v":-1},{"c":"4-Hydroxybenzaldehyde","s":"TS3","v":-1},{"c":"4-Hydroxybenzaldehyde","s":"TA1","v":-0.95},{"c":"4-Hydroxybenzaldehyde","s":"TA2","v":-0.95},{"c":"4-Hydroxybenzaldehyde","s":"TA3","v":-0.95},
{"c":"2,5-Dihydroxybenzaldehyde","s":"TB1","v":1},{"c":"2,5-Dihydroxybenzaldehyde","s":"TB2","v":1},{"c":"2,5-Dihydroxybenzaldehyde","s":"TB3","v":1},{"c":"2,5-Dihydroxybenzaldehyde","s":"TFL1","v":0.15},{"c":"2,5-Dihydroxybenzaldehyde","s":"TFL2","v":0.2},{"c":"2,5-Dihydroxybenzaldehyde","s":"TFL3","v":0.25},{"c":"2,5-Dihydroxybenzaldehyde","s":"TS1","v":0.25},{"c":"2,5-Dihydroxybenzaldehyde","s":"TS2","v":0.3},{"c":"2,5-Dihydroxybenzaldehyde","s":"TS3","v":0.4},{"c":"2,5-Dihydroxybenzaldehyde","s":"TA1","v":-0.3},{"c":"2,5-Dihydroxybenzaldehyde","s":"TA2","v":-0.35},{"c":"2,5-Dihydroxybenzaldehyde","s":"TA3","v":-0.3},
{"c":"Protocatechualdehyde","s":"TB1","v":1},{"c":"Protocatechualdehyde","s":"TB2","v":0.9},{"c":"Protocatechualdehyde","s":"TB3","v":1},{"c":"Protocatechualdehyde","s":"TFL1","v":0.1},{"c":"Protocatechualdehyde","s":"TFL2","v":0.15},{"c":"Protocatechualdehyde","s":"TFL3","v":0.1},{"c":"Protocatechualdehyde","s":"TS1","v":0},{"c":"Protocatechualdehyde","s":"TS2","v":0},{"c":"Protocatechualdehyde","s":"TS3","v":0},{"c":"Protocatechualdehyde","s":"TA1","v":-0.55},{"c":"Protocatechualdehyde","s":"TA2","v":-0.6},{"c":"Protocatechualdehyde","s":"TA3","v":-0.55},
{"c":"Dibutyl phthalate","s":"TB1","v":1},{"c":"Dibutyl phthalate","s":"TB2","v":1},{"c":"Dibutyl phthalate","s":"TB3","v":1},{"c":"Dibutyl phthalate","s":"TFL1","v":0.3},{"c":"Dibutyl phthalate","s":"TFL2","v":0.3},{"c":"Dibutyl phthalate","s":"TFL3","v":0.3},{"c":"Dibutyl phthalate","s":"TS1","v":0.3},{"c":"Dibutyl phthalate","s":"TS2","v":0.35},{"c":"Dibutyl phthalate","s":"TS3","v":0.3},{"c":"Dibutyl phthalate","s":"TA1","v":0.05},{"c":"Dibutyl phthalate","s":"TA2","v":0.08},{"c":"Dibutyl phthalate","s":"TA3","v":0.1},
{"c":"Adenine","s":"TB1","v":-0.85},{"c":"Adenine","s":"TB2","v":-0.85},{"c":"Adenine","s":"TB3","v":-0.9},{"c":"Adenine","s":"TFL1","v":0},{"c":"Adenine","s":"TFL2","v":0},{"c":"Adenine","s":"TFL3","v":-0.02},{"c":"Adenine","s":"TS1","v":0},{"c":"Adenine","s":"TS2","v":0},{"c":"Adenine","s":"TS3","v":0},{"c":"Adenine","s":"TA1","v":1},{"c":"Adenine","s":"TA2","v":1},{"c":"Adenine","s":"TA3","v":1},
{"c":"2′-Deoxyinosine-5′-monophosphate","s":"TB1","v":-0.9},{"c":"2′-Deoxyinosine-5′-monophosphate","s":"TB2","v":-0.9},{"c":"2′-Deoxyinosine-5′-monophosphate","s":"TB3","v":-0.9},{"c":"2′-Deoxyinosine-5′-monophosphate","s":"TFL1","v":-0.8},{"c":"2′-Deoxyinosine-5′-monophosphate","s":"TFL2","v":-0.8},{"c":"2′-Deoxyinosine-5′-monophosphate","s":"TFL3","v":-0.85},{"c":"2′-Deoxyinosine-5′-monophosphate","s":"TS1","v":1},{"c":"2′-Deoxyinosine-5′-monophosphate","s":"TS2","v":1},{"c":"2′-Deoxyinosine-5′-monophosphate","s":"TS3","v":1},{"c":"2′-Deoxyinosine-5′-monophosphate","s":"TA1","v":1},{"c":"2′-Deoxyinosine-5′-monophosphate","s":"TA2","v":1},{"c":"2′-Deoxyinosine-5′-monophosphate","s":"TA3","v":1},
{"c":"Secoisolariciresinol","s":"TB1","v":-1},{"c":"Secoisolariciresinol","s":"TB2","v":-1},{"c":"Secoisolariciresinol","s":"TB3","v":-1},{"c":"Secoisolariciresinol","s":"TFL1","v":1},{"c":"Secoisolariciresinol","s":"TFL2","v":1},{"c":"Secoisolariciresinol","s":"TFL3","v":1},{"c":"Secoisolariciresinol","s":"TS1","v":-1},{"c":"Secoisolariciresinol","s":"TS2","v":-1},{"c":"Secoisolariciresinol","s":"TS3","v":-1},{"c":"Secoisolariciresinol","s":"TA1","v":-1},{"c":"Secoisolariciresinol","s":"TA2","v":-1},{"c":"Secoisolariciresinol","s":"TA3","v":-1},
{"c":"2a-(a-M ethylbutyryD)-oxy-5a,7B,10f-triacetoxy-4(20),1 1l-taxad-iene","s":"TB1","v":-0.9},{"c":"2a-(a-M ethylbutyryD)-oxy-5a,7B,10f-triacetoxy-4(20),1 1l-taxad-iene","s":"TB2","v":-0.9},{"c":"2a-(a-M ethylbutyryD)-oxy-5a,7B,10f-triacetoxy-4(20),1 1l-taxad-iene","s":"TB3","v":-0.9},{"c":"2a-(a-M ethylbutyryD)-oxy-5a,7B,10f-triacetoxy-4(20),1 1l-taxad-iene","s":"TFL1","v":1},{"c":"2a-(a-M ethylbutyryD)-oxy-5a,7B,10f-triacetoxy-4(20),1 1l-taxad-iene","s":"TFL2","v":1},{"c":"2a-(a-M ethylbutyryD)-oxy-5a,7B,10f-triacetoxy-4(20),1 1l-taxad-iene","s":"TFL3","v":1},{"c":"2a-(a-M ethylbutyryD)-oxy-5a,7B,10f-triacetoxy-4(20),1 1l-taxad-iene","s":"TS1","v":-1},{"c":"2a-(a-M ethylbutyryD)-oxy-5a,7B,10f-triacetoxy-4(20),1 1l-taxad-iene","s":"TS2","v":-1},{"c":"2a-(a-M ethylbutyryD)-oxy-5a,7B,10f-triacetoxy-4(20),1 1l-taxad-iene","s":"TS3","v":-1},{"c":"2a-(a-M ethylbutyryD)-oxy-5a,7B,10f-triacetoxy-4(20),1 1l-taxad-iene","s":"TA1","v":-0.95},{"c":"2a-(a-M ethylbutyryD)-oxy-5a,7B,10f-triacetoxy-4(20),1 1l-taxad-iene","s":"TA2","v":-0.95},{"c":"2a-(a-M ethylbutyryD)-oxy-5a,7B,10f-triacetoxy-4(20),1 1l-taxad-iene","s":"TA3","v":-0.95},
{"c":"Taxuspine B","s":"TB1","v":-1},{"c":"Taxuspine B","s":"TB2","v":-1},{"c":"Taxuspine B","s":"TB3","v":-1},{"c":"Taxuspine B","s":"TFL1","v":-0.75},{"c":"Taxuspine B","s":"TFL2","v":-0.8},{"c":"Taxuspine B","s":"TFL3","v":-0.75},{"c":"Taxuspine B","s":"TS1","v":0.6},{"c":"Taxuspine B","s":"TS2","v":0.8},{"c":"Taxuspine B","s":"TS3","v":0.7},{"c":"Taxuspine B","s":"TA1","v":-0.95},{"c":"Taxuspine B","s":"TA2","v":-0.95},{"c":"Taxuspine B","s":"TA3","v":-0.95},
{"c":"Procyanidin B1","s":"TB1","v":-0.75},{"c":"Procyanidin B1","s":"TB2","v":-0.8},{"c":"Procyanidin B1","s":"TB3","v":-0.8},{"c":"Procyanidin B1","s":"TFL1","v":1},{"c":"Procyanidin B1","s":"TFL2","v":1},{"c":"Procyanidin B1","s":"TFL3","v":1},{"c":"Procyanidin B1","s":"TS1","v":-0.9},{"c":"Procyanidin B1","s":"TS2","v":-0.85},{"c":"Procyanidin B1","s":"TS3","v":-0.9},{"c":"Procyanidin B1","s":"TA1","v":-0.85},{"c":"Procyanidin B1","s":"TA2","v":-0.9},{"c":"Procyanidin B1","s":"TA3","v":-0.85},
{"c":"Inositol","s":"TB1","v":-0.85},{"c":"Inositol","s":"TB2","v":-0.9},{"c":"Inositol","s":"TB3","v":-0.9},{"c":"Inositol","s":"TFL1","v":0.55},{"c":"Inositol","s":"TFL2","v":0.6},{"c":"Inositol","s":"TFL3","v":0.4},{"c":"Inositol","s":"TS1","v":0.9},{"c":"Inositol","s":"TS2","v":0.9},{"c":"Inositol","s":"TS3","v":0.95},{"c":"Inositol","s":"TA1","v":0.9},{"c":"Inositol","s":"TA2","v":1},{"c":"Inositol","s":"TA3","v":0.9},
{"c":"Dulcitol","s":"TB1","v":0.55},{"c":"Dulcitol","s":"TB2","v":0.45},{"c":"Dulcitol","s":"TB3","v":0.45},{"c":"Dulcitol","s":"TFL1","v":-1},{"c":"Dulcitol","s":"TFL2","v":-1},{"c":"Dulcitol","s":"TFL3","v":-1},{"c":"Dulcitol","s":"TS1","v":-0.95},{"c":"Dulcitol","s":"TS2","v":-0.9},{"c":"Dulcitol","s":"TS3","v":-0.95},{"c":"Dulcitol","s":"TA1","v":-1},{"c":"Dulcitol","s":"TA2","v":-1},{"c":"Dulcitol","s":"TA3","v":-1}
],
"alkaloids": [
{"c":"Betaine","s":"TB1","v":1},{"c":"Betaine","s":"TB2","v":1},{"c":"Betaine","s":"TB3","v":1},{"c":"Betaine","s":"TFL1","v":-0.9},{"c":"Betaine","s":"TFL2","v":-0.9},{"c":"Betaine","s":"TFL3","v":-0.95},{"c":"Betaine","s":"TS1","v":-0.95},{"c":"Betaine","s":"TS2","v":-0.8},{"c":"Betaine","s":"TS3","v":-0.8},{"c":"Betaine","s":"TA1","v":-0.6},{"c":"Betaine","s":"TA2","v":-0.8},{"c":"Betaine","s":"TA3","v":-0.8},
{"c":"Spicaledonine","s":"TB1","v":-1},{"c":"Spicaledonine","s":"TB2","v":-1},{"c":"Spicaledonine","s":"TB3","v":-1},{"c":"Spicaledonine","s":"TFL1","v":0.7},{"c":"Spicaledonine","s":"TFL2","v":0.7},{"c":"Spicaledonine","s":"TFL3","v":0.7},{"c":"Spicaledonine","s":"TS1","v":0.65},{"c":"Spicaledonine","s":"TS2","v":0.7},{"c":"Spicaledonine","s":"TS3","v":0.7},{"c":"Spicaledonine","s":"TA1","v":-0.2},{"c":"Spicaledonine","s":"TA2","v":-0.15},{"c":"Spicaledonine","s":"TA3","v":-0.2},
{"c":"Spicataxine","s":"TB1","v":-0.9},{"c":"Spicataxine","s":"TB2","v":-0.9},{"c":"Spicataxine","s":"TB3","v":-0.9},{"c":"Spicataxine","s":"TFL1","v":1},{"c":"Spicataxine","s":"TFL2","v":1},{"c":"Spicataxine","s":"TFL3","v":1},{"c":"Spicataxine","s":"TS1","v":1},{"c":"Spicataxine","s":"TS2","v":1},{"c":"Spicataxine","s":"TS3","v":1},{"c":"Spicataxine","s":"TA1","v":-0.1},{"c":"Spicataxine","s":"TA2","v":-0.02},{"c":"Spicataxine","s":"TA3","v":-0.02}
],
"empty": []
},
"hconcat": [
{"vconcat": [
 {"data": {"name": "empty"}, "mark": "rect", "encoding": {}, "width": 1, "height": 1, "view": {"stroke": null}},
 {"vconcat": [
  {"vconcat": [
   {"vconcat": [
    {"data": {"name": "flav"}, "width": 126, "height": 252,
     "title": {"text": ["Flavonoids and", "their derivatives"], "dx": 141, "dy": 44.5},
     "mark": {"type": "rect", "stroke": "black", "strokeWidth": 1},
     "encoding": {
      "x": {"field": "s", "type": "nominal", "sort": null, "axis": {"orient": "top", "title": null}},
      "y": {"field": "c", "type": "nominal", "sort": null, "axis": {"orient": "right", "title": null}},
      "color": {"field": "v", "type": "quantitative", "scale": {"domain": [-1, 0, 1], "range": ["#00ff00", "#000000", "#ff0000"], "interpolate": "rgb", "clamp": true}, "legend": {"title": null, "values": [-1, 0, 1], "labelExpr": "datum.value < 0 ? '-1.0' : (datum.value > 0 ? '1.0' : '0.0')"}}
     }},
    {"data": {"name": "organic"}, "width": 126, "height": 132,
     "title": {"text": "Organic acids", "dx": 125.5, "dy": 41.3},
     "mark": {"type": "rect", "stroke": "black", "strokeWidth": 1},
     "encoding": {
      "x": {"field": "s", "type": "nominal", "sort": null, "axis": {"orient": "top", "title": null}},
      "y": {"field": "c", "type": "nominal", "sort": null, "axis": {"orient": "right", "title": null}},
      "color": {"field": "v", "type": "quantitative", "scale": {"domain": [-1, 0, 1], "range": ["#00ff00", "#000000", "#ff0000"], "interpolate": "rgb", "clamp": true}, "legend": {"title": null, "values": [-1, 0, 1], "labelExpr": "datum.value < 0 ? '-1.0' : (datum.value > 0 ? '1.0' : '0.0')"}}
     }}
   ], "spacing": 15, "resolve": {"scale": {"color": "independent"}, "legend": {"color": "independent"}}},
   {"data": {"name": "lipids"}, "width": 126, "height": 64,
    "title": {"text": "Lipids", "dx": 104, "dy": 43},
    "mark": {"type": "rect", "stroke": "black", "strokeWidth": 1},
    "encoding": {
     "x": {"field": "s", "type": "nominal", "sort": null, "axis": {"orient": "top", "title": null}},
     "y": {"field": "c", "type": "nominal", "sort": null, "axis": {"orient": "right", "title": null}},
     "color": {"field": "v", "type": "quantitative", "scale": {"domain": [-1, 0, 1], "range": ["#00ff00", "#000000", "#ff0000"], "interpolate": "rgb", "clamp": true}, "legend": {"title": null, "values": [-1, 0, 1], "labelExpr": "datum.value < 0 ? '-1.0' : (datum.value > 0 ? '1.0' : '0.0')"}}
    }}
  ], "spacing": 18, "resolve": {"scale": {"color": "independent"}, "legend": {"color": "independent"}}},
  {"hconcat": [
   {"data": {"name": "empty"}, "mark": "rect", "encoding": {}, "width": 1, "height": 1, "view": {"stroke": null}},
   {"data": {"name": "others"}, "width": 126, "height": 157,
    "title": {"text": "Others", "dx": 109, "dy": 36},
    "mark": {"type": "rect", "stroke": "black", "strokeWidth": 1},
    "encoding": {
     "x": {"field": "s", "type": "nominal", "sort": null, "axis": {"orient": "top", "title": null}},
     "y": {"field": "c", "type": "nominal", "sort": null, "axis": {"orient": "right", "title": null}},
     "color": {"field": "v", "type": "quantitative", "scale": {"domain": [-1, 0, 1], "range": ["#00ff00", "#000000", "#ff0000"], "interpolate": "rgb", "clamp": true}, "legend": {"title": null, "values": [-1, 0, 1], "labelExpr": "datum.value < 0 ? '-1.0' : (datum.value > 0 ? '1.0' : '0.0')"}}
    }}
  ], "spacing": 3, "resolve": {"scale": {"color": "independent"}, "legend": {"color": "independent"}}}
 ], "spacing": 29, "resolve": {"scale": {"color": "independent"}, "legend": {"color": "independent"}}}
], "spacing": 0, "resolve": {"scale": {"color": "independent"}, "legend": {"color": "independent"}}},
{"vconcat": [
 {"data": {"name": "empty"}, "mark": "rect", "encoding": {}, "width": 1, "height": 1, "view": {"stroke": null}},
 {"vconcat": [
  {"vconcat": [
   {"vconcat": [
    {"data": {"name": "amino"}, "width": 126, "height": 132,
     "title": {"text": ["Amino acids and", "their derivatives"], "dx": 150, "dy": 45.3},
     "mark": {"type": "rect", "stroke": "black", "strokeWidth": 1},
     "encoding": {
      "x": {"field": "s", "type": "nominal", "sort": null, "axis": {"orient": "top", "title": null}},
      "y": {"field": "c", "type": "nominal", "sort": null, "axis": {"orient": "right", "title": null}},
      "color": {"field": "v", "type": "quantitative", "scale": {"domain": [-1, 0, 1], "range": ["#00ff00", "#000000", "#ff0000"], "interpolate": "rgb", "clamp": true}, "legend": {"title": null, "values": [-1, 0, 1], "labelExpr": "datum.value < 0 ? '-1.0' : (datum.value > 0 ? '1.0' : '0.0')"}}
     }},
    {"data": {"name": "sacch"}, "width": 126, "height": 92,
     "title": {"text": ["Saccharides\u00a0 and", "their derivatives"], "dx": 127, "dy": 47.3},
     "mark": {"type": "rect", "stroke": "black", "strokeWidth": 1},
     "encoding": {
      "x": {"field": "s", "type": "nominal", "sort": null, "axis": {"orient": "top", "title": null}},
      "y": {"field": "c", "type": "nominal", "sort": null, "axis": {"orient": "right", "title": null}},
      "color": {"field": "v", "type": "quantitative", "scale": {"domain": [-1, 0, 1], "range": ["#00ff00", "#000000", "#ff0000"], "interpolate": "rgb", "clamp": true}, "legend": {"title": null, "values": [-1, 0, 1], "labelExpr": "datum.value < 0 ? '-1.0' : (datum.value > 0 ? '1.0' : '0.0')"}}
     }}
   ], "spacing": 110, "resolve": {"scale": {"color": "independent"}, "legend": {"color": "independent"}}},
   {"data": {"name": "phenolic"}, "width": 126, "height": 53,
    "title": {"text": "Phenolic acids", "dx": 119, "dy": 37},
    "mark": {"type": "rect", "stroke": "black", "strokeWidth": 1},
    "encoding": {
     "x": {"field": "s", "type": "nominal", "sort": null, "axis": {"orient": "top", "title": null}},
     "y": {"field": "c", "type": "nominal", "sort": null, "axis": {"orient": "right", "title": null}},
     "color": {"field": "v", "type": "quantitative", "scale": {"domain": [-1, 0, 1], "range": ["#00ff00", "#000000", "#ff0000"], "interpolate": "rgb", "clamp": true}, "legend": {"title": null, "values": [-1, 0, 1], "labelExpr": "datum.value < 0 ? '-1.0' : (datum.value > 0 ? '1.0' : '0.0')"}}
    }}
  ], "spacing": 58, "resolve": {"scale": {"color": "independent"}, "legend": {"color": "independent"}}},
  {"data": {"name": "alkaloids"}, "width": 126, "height": 40,
   "title": {"text": "Alkaloids", "dx": 132, "dy": 39.3},
   "mark": {"type": "rect", "stroke": "black", "strokeWidth": 1},
   "encoding": {
    "x": {"field": "s", "type": "nominal", "sort": null, "axis": {"orient": "top", "title": null}},
    "y": {"field": "c", "type": "nominal", "sort": null, "axis": {"orient": "right", "title": null}},
    "color": {"field": "v", "type": "quantitative", "scale": {"domain": [-1, 0, 1], "range": ["#00ff00", "#000000", "#ff0000"], "interpolate": "rgb", "clamp": true}, "legend": {"title": null, "values": [-1, 0, 1], "labelExpr": "datum.value < 0 ? '-1.0' : (datum.value > 0 ? '1.0' : '0.0')"}}
   }}
 ], "spacing": 47, "resolve": {"scale": {"color": "independent"}, "legend": {"color": "independent"}}}
], "spacing": 31, "resolve": {"scale": {"color": "independent"}, "legend": {"color": "independent"}}}
],
"bounds": "flush",
"spacing": 391,
"resolve": {"scale": {"color": "independent"}, "legend": {"color": "independent"}},
"config": {
 "font": "Liberation Serif",
 "view": {"stroke": "#555", "strokeWidth": 1},
 "axis": {"labelFont": "Liberation Serif", "labelFontSize": 13, "labelColor": "#000", "ticks": false, "domain": false, "grid": false, "labelOverlap": false},
 "axisX": {"labelAngle": 270, "labelPadding": 2},
 "axisY": {"labelPadding": 11, "labelLimit": 1000},
 "legend": {"orient": "top", "direction": "horizontal", "gradientLength": 126, "gradientThickness": 11, "gradientStrokeWidth": 0, "labelFont": "Liberation Serif", "labelFontSize": 14, "labelFontWeight": "bold", "labelColor": "#000", "labelOffset": 3, "offset": 1, "padding": 0},
 "title": {"anchor": "middle", "frame": "group", "font": "Liberation Serif", "fontSize": 14, "fontWeight": "bold", "color": "#000", "lineHeight": 17, "offset": 0}
}
}
